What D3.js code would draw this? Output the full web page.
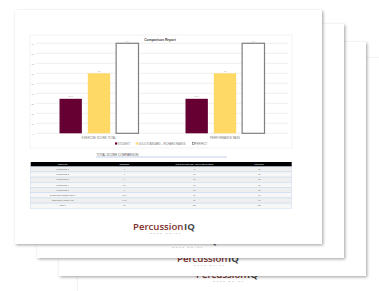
<!DOCTYPE html>
<html>
<head>
<meta charset="utf-8">
<script src="https://cdn.jsdelivr.net/npm/d3@7"></script>
<style>
  body { margin: 0; background: #fff; }
  svg { display: block; font-family: "Liberation Sans", Arial, sans-serif; }
</style>
</head>
<body>
<div class="report"></div>
<script>
// chart data
var categories = ["EXERCISE SCORE TOTAL", "PERFORMANCE PASS"];
var seriesNames = ["STUDENT", "GOLD STANDARD – RICHARD RAMOS", "PERFECT"];
var studentVals = [34.5, 34.5];
var goldVals = [60, 60];
var perfectVals = [90, 90];
var yTicks = [0, 10, 20, 30, 40, 50, 60, 70, 80, 90];

// table data
var tableHead = ["SECTION", "STUDENT", "GOLD STANDARD - RICHARD RAMOS", "PERFECT"];
var sections = ["EXERCISE 1", "EXERCISE 2", "EXERCISE 3", "EXERCISE 4", "EXERCISE 5", "EXERCISE SCORE TOTAL", "PERFORMANCE PASS", "TOTAL"];
var studentCol = ["7", "7", "7", "6.5", "7", "34.5", "34.5", "69"];
var goldCol = ["8", "13", "13", "13", "13", "60", "60", "120"];
var perfectCol = ["18", "18", "18", "18", "18", "90", "90", "180"];

var colors = ["#660033", "#ffd966", "#ffffff"];

var W = 379, H = 291;
var svg = d3.select(".report").append("svg")
    .attr("width", W).attr("height", H);

var defs = svg.append("defs");
var f = defs.append("filter").attr("id", "shadow")
    .attr("x", "-5%").attr("y", "-5%").attr("width", "115%").attr("height", "115%");
f.append("feDropShadow")
    .attr("dx", 1.2).attr("dy", 1.2)
    .attr("stdDeviation", 1.6)
    .attr("flood-color", "#000").attr("flood-opacity", 0.35);

// stacked pages, back to front
var pageW = 307, pageH = 234;
var pageDx = [0, 22, 44, 63];
var pageDy = [0, 14, 32, 48];

function drawLogo(g) {
  var t = g.append("text")
      .attr("x", 118).attr("y", 219.5)
      .attr("font-family", "'Open Sans', 'Liberation Sans', sans-serif")
      .attr("font-size", "9.6px")
      .attr("font-weight", 600);
  t.append("tspan").attr("fill", "#7d2f2b").text("Percussion");
  t.append("tspan").attr("fill", "#4a4a4a").attr("font-weight", 700).attr("dx", 0.6).text("IQ");
  g.append("text")
      .attr("x", 151).attr("y", 223.8)
      .attr("text-anchor", "middle")
      .attr("font-size", "2.3px")
      .attr("letter-spacing", "1.6px")
      .attr("fill", "#999")
      .text("DRUM SMART");
}

[3, 2, 1, 0].forEach(function (i) {
  var g = svg.append("g")
      .attr("transform", "translate(" + (15 + pageDx[i]) + "," + (10 + pageDy[i]) + ")");
  g.append("rect")
      .attr("width", pageW).attr("height", pageH)
      .attr("fill", "#fff")
      .attr("filter", "url(#shadow)");
  drawLogo(g);
});

// front page chart (absolute coords)
var chart = svg.append("g");

chart.append("rect")
    .attr("x", 30).attr("y", 35)
    .attr("width", 262).attr("height", 113)
    .attr("fill", "#fff")
    .attr("stroke", "#e6e6e6").attr("stroke-width", 0.5);

chart.append("text")
    .attr("x", 160).attr("y", 40.5)
    .attr("text-anchor", "middle")
    .attr("font-size", "3.4px").attr("font-weight", 700)
    .attr("fill", "#444")
    .text("Comparison Report");

var y = d3.scaleLinear().domain([0, 90]).range([133.3, 43.3]);
var x0 = d3.scaleBand().domain(categories).range([36, 288]);
var x1 = d3.scaleBand().domain(seriesNames)
    .range([x0.bandwidth() / 2 - 39.5, x0.bandwidth() / 2 + 39.5])
    .paddingInner(0.21);

// gridlines
chart.append("g").selectAll("line")
    .data(yTicks).enter().append("line")
    .attr("x1", 36).attr("x2", 288)
    .attr("y1", function (d) { return y(d); })
    .attr("y2", function (d) { return y(d); })
    .attr("stroke", "#e4e4e4").attr("stroke-width", 0.6);

var yAxis = chart.append("g")
    .attr("transform", "translate(35,0)")
    .call(d3.axisLeft(y).tickValues(yTicks).tickSize(0).tickPadding(1));
yAxis.select(".domain").remove();
yAxis.selectAll("text").attr("font-size", "2.2px").attr("fill", "#999");

var rows = categories.map(function (c, i) {
  return { cat: c, vals: [studentVals[i], goldVals[i], perfectVals[i]] };
});

var groups = chart.selectAll(".grp")
    .data(rows).enter().append("g")
    .attr("transform", function (d) { return "translate(" + x0(d.cat) + ",0)"; });

groups.selectAll("rect")
    .data(function (d) { return d.vals.map(function (v, j) { return { s: seriesNames[j], v: v, j: j }; }); })
    .enter().append("rect")
    .attr("x", function (d) { return x1(d.s); })
    .attr("y", function (d) { return y(d.v); })
    .attr("width", x1.bandwidth())
    .attr("height", function (d) { return y(0) - y(d.v); })
    .attr("fill", function (d) { return colors[d.j]; })
    .attr("stroke", function (d) { return d.j === 2 ? "#7f7f7f" : "none"; })
    .attr("stroke-width", 1.2);

groups.selectAll(".lbl")
    .data(function (d) { return d.vals.map(function (v, j) { return { s: seriesNames[j], v: v }; }); })
    .enter().append("text")
    .attr("x", function (d) { return x1(d.s) + x1.bandwidth() / 2; })
    .attr("y", function (d) { return y(d.v) - 1.5; })
    .attr("text-anchor", "middle")
    .attr("font-size", "2.2px").attr("fill", "#999")
    .text(function (d) { return d.v; });

chart.append("g").selectAll("text")
    .data(categories).enter().append("text")
    .attr("x", function (d) { return x0(d) + x0.bandwidth() / 2; })
    .attr("y", 138.8)
    .attr("text-anchor", "middle")
    .attr("font-size", "2.8px").attr("fill", "#777")
    .text(function (d) { return d; });

// legend
var legX = [115, 135.7, 192.3];
var leg = chart.append("g").selectAll("g")
    .data(seriesNames).enter().append("g")
    .attr("transform", function (d, i) { return "translate(" + legX[i] + ",143.5)"; });
leg.append("rect")
    .attr("width", 2.2).attr("height", 2.2).attr("y", -1.1)
    .attr("fill", function (d, i) { return colors[i]; })
    .attr("stroke", function (d, i) { return i === 2 ? "#555" : "none"; })
    .attr("stroke-width", 0.5);
leg.append("text")
    .attr("x", 2.8).attr("y", 1)
    .attr("font-size", "2.6px").attr("fill", "#777")
    .text(function (d) { return d; });

// table
var tbl = svg.append("g");
tbl.append("text")
    .attr("x", 96.5).attr("y", 155.5)
    .attr("font-size", "3px").attr("fill", "#555")
    .text("TOTAL SCORE COMPARISON");
tbl.append("line")
    .attr("x1", 96).attr("x2", 227)
    .attr("y1", 157).attr("y2", 157)
    .attr("stroke", "#a9bcdc").attr("stroke-width", 0.7);

var colX = [62.7, 124.3, 194.3, 259.3];
var tX = 30.7, tW = 261, headY = 162, headH = 4.7, rowH = 5.2;

tbl.append("rect")
    .attr("x", tX).attr("y", headY).attr("width", tW).attr("height", headH)
    .attr("fill", "#000");
tbl.append("g").selectAll("text")
    .data(tableHead).enter().append("text")
    .attr("x", function (d, i) { return colX[i]; })
    .attr("y", headY + 3.1)
    .attr("text-anchor", "middle")
    .attr("font-size", "2.1px").attr("font-weight", 700).attr("fill", "#ddd")
    .text(function (d) { return d; });

var tRows = tbl.selectAll(".row")
    .data(sections).enter().append("g")
    .attr("transform", function (d, i) { return "translate(0," + (headY + headH + i * rowH) + ")"; });
tRows.append("rect")
    .attr("x", tX).attr("width", tW).attr("height", rowH)
    .attr("fill", function (d, i) { return i % 2 ? "#f7f7f7" : "#efefef"; })
    .attr("stroke", "#c6d8ef").attr("stroke-width", 0.5);
tRows.each(function (d, i) {
  var cells = [d, studentCol[i], goldCol[i], perfectCol[i]];
  d3.select(this).selectAll("text")
    .data(cells).enter().append("text")
    .attr("x", function (c, k) { return colX[k]; })
    .attr("y", 3.4)
    .attr("text-anchor", "middle")
    .attr("font-size", "2.1px").attr("fill", "#666")
    .text(function (c) { return c; });
});
</script>
</body>
</html>
